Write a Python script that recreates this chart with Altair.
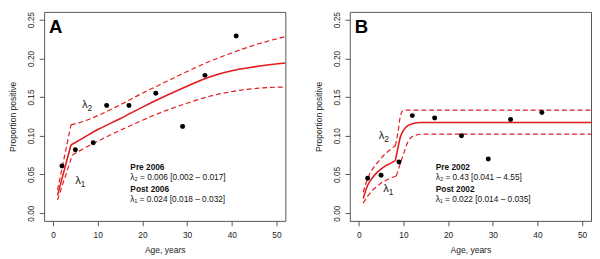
import altair as alt
import pandas as pd

# ---------------- data ----------------
ages = [2, 5, 9, 12, 17, 23, 29, 34, 41]
prop_A = [0.061, 0.082, 0.091, 0.139, 0.139, 0.155, 0.112, 0.178, 0.229]
prop_B = [0.045, 0.049, 0.066, 0.126, 0.123, 0.100, 0.070, 0.121, 0.130]

# Panel A fitted curve and 95% bounds (age, proportion)
A_fit_x = [1, 4, 7, 10, 15, 20, 25, 30, 35, 40, 45, 52]
A_fit_y = [0.023, 0.088, 0.098, 0.108, 0.122, 0.137, 0.151, 0.164, 0.176, 0.184, 0.189, 0.194]
A_up_x = [1, 4, 7, 10, 15, 20, 25, 30, 35, 40, 45, 52]
A_up_y = [0.030, 0.114, 0.119, 0.126, 0.140, 0.155, 0.169, 0.183, 0.196, 0.207, 0.217, 0.228]
A_lo_x = [1, 4.3, 7, 10, 15, 20, 25, 30, 35, 40, 45, 52]
A_lo_y = [0.017, 0.075, 0.084, 0.093, 0.107, 0.120, 0.132, 0.142, 0.151, 0.157, 0.161, 0.163]
A_kinks = [4, 4, 4.3]

# Panel B fitted curve and 95% bounds
B_fit_x = [1, 2, 3, 4, 5, 6, 7, 8.2, 8.8, 9.3, 10, 11, 12, 14, 20, 52]
B_fit_y = [0.019, 0.036, 0.045, 0.052, 0.057, 0.061, 0.064, 0.068, 0.085, 0.098, 0.107, 0.113, 0.1155, 0.117, 0.117, 0.117]
B_up_x = [1, 2, 3, 4, 5, 6, 7, 8.2, 8.8, 9.3, 9.8, 10.5, 20, 52]
B_up_y = [0.027, 0.045, 0.056, 0.064, 0.071, 0.077, 0.082, 0.087, 0.105, 0.125, 0.132, 0.133, 0.133, 0.133]
B_lo_x = [1, 2, 3, 4, 5, 6, 7, 8.4, 9.2, 10, 11, 12, 13, 14, 20, 52]
B_lo_y = [0.013, 0.022, 0.029, 0.034, 0.039, 0.042, 0.045, 0.048, 0.062, 0.076, 0.092, 0.099, 0.101, 0.102, 0.102, 0.102]
B_kinks = [8.2, 8.2, 8.4]

x_ticks = [0, 10, 20, 30, 40, 50]
y_ticks = [0.0, 0.05, 0.10, 0.15, 0.20, 0.25]

A_notes = ["Pre 2006", "λ₂ = 0.006 [0.002 – 0.017]", "Post 2006", "λ₁ = 0.024 [0.018 – 0.032]"]
B_notes = ["Pre 2002", "λ₂ = 0.43 [0.041 – 4.55]", "Post 2002", "λ₁ = 0.022 [0.014 – 0.035]"]

# ---------------- style ----------------
RED = "#e41a1c"
FONT = "Liberation Sans"
W, H = 247, 214
X_DOMAIN = [-2, 52]
Y_DOMAIN = [-0.01, 0.26]


def curve_df(xs, ys, kink):
    rows = []
    for xv, yv in zip(xs, ys):
        if xv <= kink:
            rows.append({"x": xv, "y": yv, "seg": 0})
        if xv >= kink:
            rows.append({"x": xv, "y": yv, "seg": 1})
    return pd.DataFrame(rows)


def xenc():
    return alt.X(
        "x:Q",
        scale=alt.Scale(domain=X_DOMAIN, nice=False, zero=False),
        axis=alt.Axis(values=x_ticks, title="Age, years", grid=False, domain=False,
                      tickSize=5, tickColor="#555", labelPadding=5, labelFontSize=8.5,
                      labelColor="#222", titleFontSize=8.7, titleFontWeight="normal",
                      titleColor="#222", titlePadding=7, labelFont=FONT, titleFont=FONT),
    )


def yenc():
    return alt.Y(
        "y:Q",
        scale=alt.Scale(domain=Y_DOMAIN, nice=False, zero=False),
        axis=alt.Axis(values=y_ticks, format=".2f", title="Proportion positive", grid=False,
                      domain=False, tickSize=5, tickColor="#555", labelPadding=4,
                      labelFontSize=8.5, labelAngle=270, labelAlign="center",
                      labelBaseline="bottom", labelColor="#222", titleFontSize=8.7,
                      titleFontWeight="normal", titleColor="#222", titlePadding=9,
                      labelFont=FONT, titleFont=FONT),
    )


def text_layer(txt, xv, yv, size, weight, align="left", baseline="middle", color="#111",
               dx=0, dy=0):
    df = pd.DataFrame({"x": [xv], "y": [yv], "t": [txt]})
    return alt.Chart(df).mark_text(font=FONT, fontSize=size, fontWeight=weight,
                                   align=align, baseline=baseline, color=color,
                                   dx=dx, dy=dy).encode(
        x=alt.X("x:Q", scale=alt.Scale(domain=X_DOMAIN, nice=False, zero=False)),
        y=alt.Y("y:Q", scale=alt.Scale(domain=Y_DOMAIN, nice=False, zero=False)),
        text="t:N")


def lam_label(sub, pos):
    return [
        text_layer("λ", pos[0], pos[1], 11.5, "normal", align="right", color="#222", dx=1),
        text_layer(sub, pos[0], pos[1], 8.5, "normal", align="left", color="#222",
                   dx=1, dy=3),
    ]


def panel(letter, props, fits, kinks, notes, lam2_pos, lam1_pos, note_x):
    pts = pd.DataFrame({"x": ages, "y": props})
    layers = []
    names = ["fit", "up", "lo"]
    for (xs, ys), k, nm in zip(fits, kinks, names):
        df = curve_df(xs, ys, k)
        if nm == "fit":
            mk = alt.Chart(df).mark_line(interpolate="monotone", clip=True, color=RED,
                                         strokeWidth=1.6)
        else:
            mk = alt.Chart(df).mark_line(interpolate="monotone", clip=True, color=RED,
                                         strokeWidth=1.2, strokeDash=[5, 3])
        layers.append(mk.encode(x=xenc(), y=yenc(), detail="seg:N"))
    layers.append(alt.Chart(pts).mark_circle(size=26, color="black", opacity=1)
                  .encode(x=xenc(), y=yenc()))
    layers.append(text_layer(letter, -0.9, 0.2333, 19, "bold", baseline="alphabetic",
                             color="black"))
    layers += lam_label("2", lam2_pos)
    layers += lam_label("1", lam1_pos)
    note_y = [0.0600, 0.0472, 0.0310, 0.0182]
    for i, t in enumerate(notes):
        layers.append(text_layer(t, note_x, note_y[i], 8.5,
                                 "bold" if i % 2 == 0 else "normal"))
    return alt.layer(*layers).properties(width=W, height=H)


pA = panel("A", prop_A,
           [(A_fit_x, A_fit_y), (A_up_x, A_up_y), (A_lo_x, A_lo_y)], A_kinks,
           A_notes, (7.5, 0.139), (6.0, 0.041), 17.3)
pB = panel("B", prop_B,
           [(B_fit_x, B_fit_y), (B_up_x, B_up_y), (B_lo_x, B_lo_y)], B_kinks,
           B_notes, (5.5, 0.0995), (6.5, 0.031), 17.25)

chart = (alt.hconcat(pA, pB, spacing=28)
         .properties(padding={"left": 0, "top": 0, "right": 0, "bottom": 0})
         .configure(font=FONT)
         .configure_view(stroke="#555", strokeWidth=1))

chart.save("out.html", embed_options={"renderer": "svg", "actions": False})
